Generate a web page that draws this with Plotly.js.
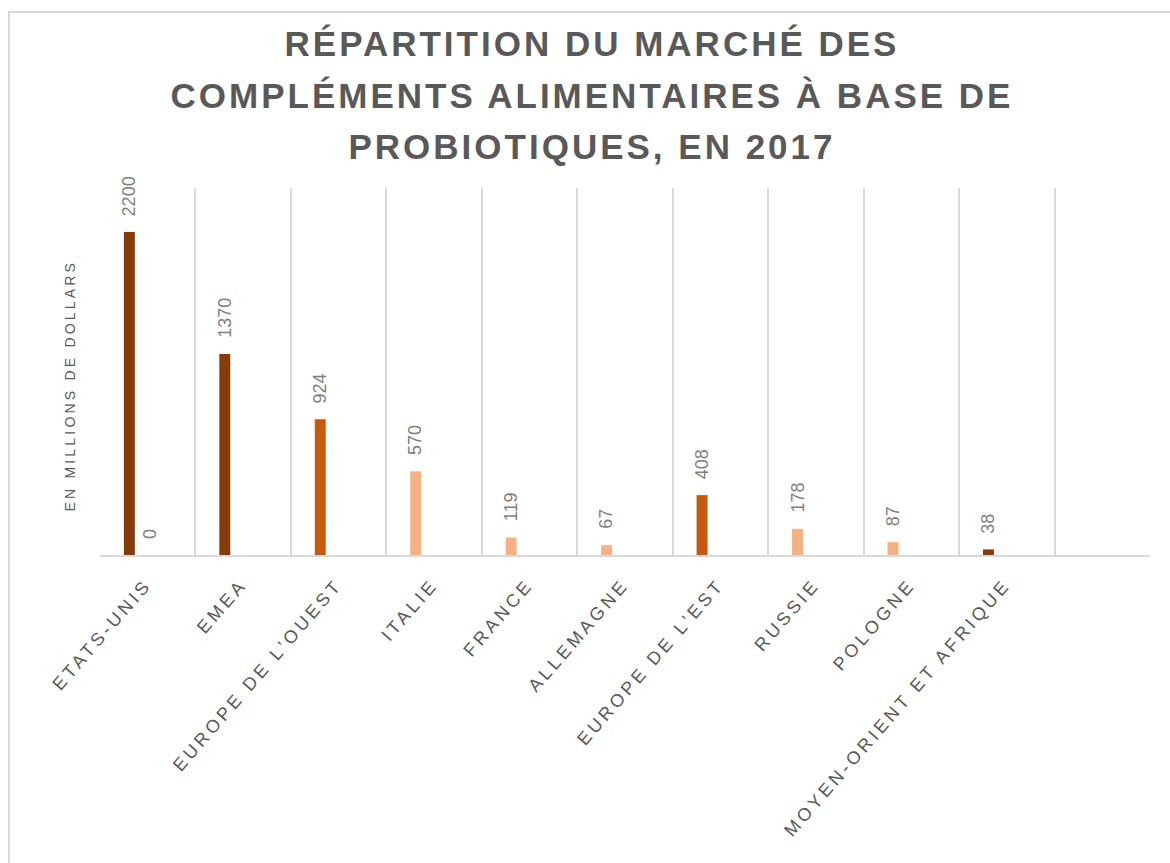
<!DOCTYPE html>
<html>
<head>
<meta charset="utf-8">
<script src="https://cdn.plot.ly/plotly-3.0.1.min.js"></script>
<style>
  html, body { margin: 0; padding: 0; background: #fff; overflow: hidden; }
  #frame { position: absolute; left: 8px; top: 11px; width: 1200px; height: 900px;
           border: 2px solid #d9d9d9; pointer-events: none; box-sizing: border-box; }
  #chart { position: absolute; left: 0; top: 0; width: 1170px; height: 863px; }
  .gtitle { letter-spacing: 3px; }
  .xtick text { letter-spacing: 3.6px; }
  .ytitle { letter-spacing: 3.2px; }
</style>
</head>
<body>
<div id="chart"></div>
<div id="frame"></div>
<script>
// ---- data ----
const categories = ["ETATS-UNIS", "EMEA", "EUROPE DE L'OUEST", "ITALIE", "FRANCE",
                    "ALLEMAGNE", "EUROPE DE L'EST", "RUSSIE", "POLOGNE", "MOYEN-ORIENT ET AFRIQUE"];
const marketValues = [2200, 1370, 924, 570, 119, 67, 408, 178, 87, 38];
const secondValues = [0, null, null, null, null, null, null, null, null, null];
const barColors = ["#843C0C", "#843C0C", "#C55A11", "#F4B183", "#F4B183",
                   "#F4B183", "#C55A11", "#F4B183", "#F4B183", "#843C0C"];
const titleText = "RÉPARTITION DU MARCHÉ DES<br>COMPLÉMENTS ALIMENTAIRES À BASE DE<br>PROBIOTIQUES, EN 2017";
const yTitle = "EN MILLIONS DE DOLLARS";

// ---- style constants ----
const barWidth = 0.115;
const offset1 = -0.25;
const offset2 = -0.035;
const labelColor = "#7F7F7F";
const textColor = "#595959";
const gridColor = "#D9D9D9";
const font = "Liberation Sans, Arial, sans-serif";
const idx = categories.map((_, i) => i);

const traces = [
  { type: "bar", x: idx, y: marketValues, width: barWidth, offset: offset1,
    marker: { color: barColors }, hoverinfo: "x+y", showlegend: false },
  { type: "bar", x: idx, y: secondValues, width: barWidth, offset: offset2,
    marker: { color: "#843C0C" }, hoverinfo: "x+y", showlegend: false }
];

const annotations = [];
function addLabels(values, off) {
  values.forEach((v, i) => {
    if (v === null) return;
    annotations.push({ xref: "x", yref: "y", x: i + off + barWidth / 2, y: v, text: String(v),
      textangle: -90, showarrow: false, xanchor: "center", yanchor: "bottom", yshift: 14,
      font: { family: font, size: 18, color: labelColor } });
  });
}
addLabels(marketValues, offset1);
addLabels(secondValues, offset2);

const layout = {
  width: 1170, height: 863,
  margin: { l: 100, r: 20, t: 188, b: 308 },
  paper_bgcolor: "#ffffff", plot_bgcolor: "#ffffff",
  barmode: "overlay",
  title: { text: titleText, x: 0.506, xanchor: "center", xref: "container",
           y: 1 - 56 / 863, yanchor: "top", yref: "container",
           font: { family: font, size: 35, color: textColor, weight: "bold" } },
  xaxis: {
    range: [-0.5, 10.5], tickmode: "array", tickvals: idx, ticktext: categories,
    tickangle: -49, ticks: "", showgrid: false, zeroline: false,
    ticklabelshift: -2, ticklabelstandoff: 10,
    showline: true, linecolor: gridColor, linewidth: 2,
    tickfont: { family: font, size: 18, color: textColor },
    minor: { tickmode: "linear", tick0: -0.5, dtick: 1, showgrid: true, gridcolor: gridColor, gridwidth: 2, ticks: "" },
    fixedrange: true
  },
  yaxis: {
    range: [0, 2500], showgrid: false, showticklabels: false, showline: false, zeroline: false, ticks: "",
    title: { text: yTitle + "\u00a0\u00a0\u00a0\u00a0\u200b", standoff: 20,
             font: { family: font, size: 14, color: textColor } },
    fixedrange: true
  },
  annotations: annotations
};

Plotly.newPlot("chart", traces, layout, { displayModeBar: false, staticPlot: true }).then(() => {
  document.querySelectorAll(".gtitle tspan.line").forEach((t, i) => {
    t.setAttribute("dy", (i * 1.477).toFixed(3) + "em");
  });
});
</script>
</body>
</html>
